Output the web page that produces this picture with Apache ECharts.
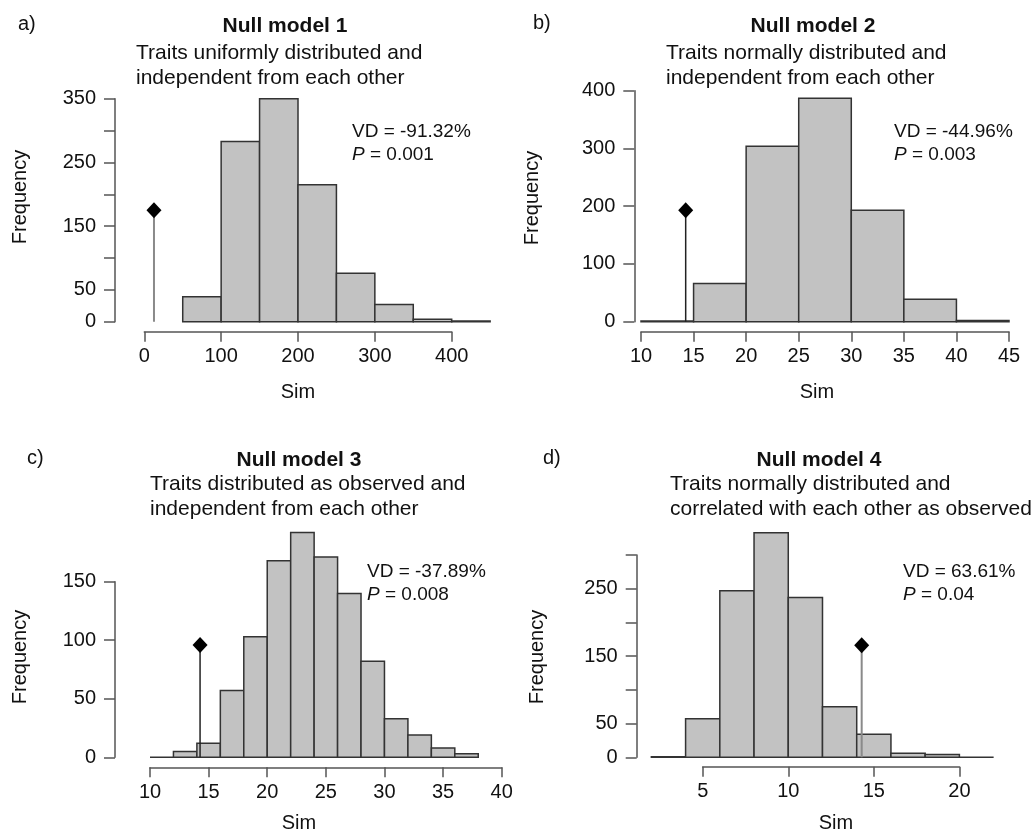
<!DOCTYPE html>
<html>
<head>
<meta charset="utf-8">
<script src="https://cdn.jsdelivr.net/npm/echarts@6/dist/echarts.min.js"></script>
<style>
  html, body { margin: 0; padding: 0; background: #fff; }
  #chart { width: 1034px; height: 835px; }
</style>
</head>
<body>
<div id="chart"></div>
<script>
// histogram bin edges and counts
const edgesA = [50, 100, 150, 200, 250, 300, 350, 400, 450];
const countsA = [39, 283, 350, 215, 76, 27, 4, 1];
const edgesB = [10, 15, 20, 25, 30, 35, 40, 45];
const countsB = [1, 66, 304, 387, 193, 39, 2];
const edgesC = [10, 12, 14, 16, 18, 20, 22, 24, 26, 28, 30, 32, 34, 36, 38];
const countsC = [0, 5, 12, 57, 103, 168, 192, 171, 140, 82, 33, 19, 8, 3];
const edgesD = [2, 4, 6, 8, 10, 12, 14, 16, 18, 20, 22];
const countsD = [1, 57, 247, 333, 237, 75, 34, 6, 4, 0];

// observed value [Sim, marker height]
const obsA = [12.6, 175];
const obsB = [14.25, 193];
const obsC = [14.27, 96];
const obsD = [14.29, 166];

// labelled y ticks
const yLabelsA = [0, 50, 150, 250, 350];
const yLabelsB = [0, 100, 200, 300, 400];
const yLabelsC = [0, 50, 100, 150];
const yLabelsD = [0, 50, 150, 250];

const titles = ['Null model 1', 'Null model 2', 'Null model 3', 'Null model 4'];
const subtitles = [
  ['Traits uniformly distributed and', 'independent from each other'],
  ['Traits normally distributed and', 'independent from each other'],
  ['Traits distributed as observed and', 'independent from each other'],
  ['Traits normally distributed and', 'correlated with each other as observed']
];
const vdTexts = ['VD = -91.32%', 'VD = -44.96%', 'VD = -37.89%', 'VD = 63.61%'];
const pTexts = ['0.001', '0.003', '0.008', '0.04'];
const letters = ['a)', 'b)', 'c)', 'd)'];

const FONT = '"Liberation Sans", Arial, Helvetica, sans-serif';
const TXT = '#111';
const AXIS = '#555';

// panel layout (pixels)
const panels = [
  { grid: [144.3, 98.7, 307.4, 223], x: [0, 400, 100], y: [0, 350, 50], yOff: 29.3, xOff: 10,
    edges: edgesA, counts: countsA, obs: obsA, labels: yLabelsA, stem: '#8a8a8a', stemW: 2,
    letter: [18, 24], title: [285, 26], sub: [136, 53], vd: [352, 132], freq: [20, 197], sim: [298, 392] },
  { grid: [641, 90.7, 368, 231], x: [10, 45, 5], y: [0, 400, 100], yOff: 6.7, xOff: 10,
    edges: edgesB, counts: countsB, obs: obsB, labels: yLabelsB, stem: '#222', stemW: 1.5,
    letter: [533, 23], title: [813, 26], sub: [666, 53], vd: [894, 132], freq: [532, 198], sim: [817, 392] },
  { grid: [150, 581.7, 351.7, 175.6], x: [10, 40, 5], y: [0, 150, 50], yOff: 35, xOff: 10,
    edges: edgesC, counts: countsC, obs: obsC, labels: yLabelsC, stem: '#222', stemW: 1.5,
    letter: [27, 458], title: [299, 460], sub: [150, 484], vd: [367, 572], freq: [20, 657], sim: [299, 823] },
  { grid: [702.7, 555, 256.7, 202.3], x: [5, 20, 5], y: [0, 300, 50], yOff: 66, xOff: 9.4,
    edges: edgesD, counts: countsD, obs: obsD, labels: yLabelsD, stem: '#8a8a8a', stemW: 2,
    letter: [543, 458], title: [819, 460], sub: [670, 484], vd: [903, 572], freq: [537, 657], sim: [836, 823] }
];

const grid = [], xAxis = [], yAxis = [], series = [], graphic = [];

panels.forEach(function (p, i) {
  grid.push({ left: p.grid[0], top: p.grid[1], width: p.grid[2], height: p.grid[3],
    containLabel: false, outerBoundsMode: 'none' });
  xAxis.push({
    type: 'value', gridIndex: i, min: p.x[0], max: p.x[1], interval: p.x[2],
    position: 'bottom', offset: p.xOff,
    axisLine: { show: true, onZero: false, lineStyle: { color: AXIS, width: 1.5 } },
    axisTick: { show: true, length: 10, lineStyle: { color: AXIS, width: 1.5 } },
    axisLabel: { margin: 15, color: TXT, fontSize: 20, fontFamily: FONT },
    splitLine: { show: false }
  });
  const labs = p.labels;
  yAxis.push({
    type: 'value', gridIndex: i, min: p.y[0], max: p.y[1], interval: p.y[2],
    position: 'left', offset: p.yOff,
    axisLine: { show: true, onZero: false, lineStyle: { color: AXIS, width: 1.5 } },
    axisTick: { show: true, length: 11, lineStyle: { color: AXIS, width: 1.5 } },
    axisLabel: { margin: 19, color: TXT, fontSize: 20, fontFamily: FONT,
      formatter: function (v) { return labs.indexOf(v) >= 0 ? String(v) : ''; } },
    splitLine: { show: false }
  });

  const bins = p.counts.map(function (c, k) { return [p.edges[k], p.edges[k + 1], c]; });
  series.push({
    type: 'custom', xAxisIndex: i, yAxisIndex: i, clip: false, z: 2,
    data: bins, encode: { x: [0, 1], y: 2 },
    renderItem: function (params, api) {
      const a = api.coord([api.value(0), 0]);
      const b = api.coord([api.value(1), api.value(2)]);
      return {
        type: 'rect',
        shape: { x: a[0], y: b[1], width: b[0] - a[0], height: a[1] - b[1] },
        style: { fill: '#c2c2c2', stroke: '#333', lineWidth: 1.5 }
      };
    }
  });
  series.push({
    type: 'line', xAxisIndex: i, yAxisIndex: i, z: 3, symbol: 'none', silent: true,
    data: [[p.obs[0], 0], [p.obs[0], p.obs[1]]],
    lineStyle: { color: p.stem, width: p.stemW }
  });
  series.push({
    type: 'scatter', xAxisIndex: i, yAxisIndex: i, z: 4, symbol: 'diamond', symbolSize: [15, 16],
    data: [p.obs], itemStyle: { color: '#000', opacity: 1 }
  });

  graphic.push({ type: 'text', x: p.letter[0], y: p.letter[1],
    style: { text: letters[i], font: '20px ' + FONT, fill: TXT, align: 'left', verticalAlign: 'middle' } });
  graphic.push({ type: 'text', x: p.title[0], y: p.title[1],
    style: { text: titles[i], font: 'bold 21px ' + FONT, fill: TXT, align: 'center', verticalAlign: 'middle' } });
  graphic.push({ type: 'text', x: p.sub[0], y: p.sub[1],
    style: { text: subtitles[i][0], font: '21px ' + FONT, fill: TXT, align: 'left', verticalAlign: 'middle' } });
  graphic.push({ type: 'text', x: p.sub[0], y: p.sub[1] + 25,
    style: { text: subtitles[i][1], font: '21px ' + FONT, fill: TXT, align: 'left', verticalAlign: 'middle' } });
  graphic.push({ type: 'text', x: p.vd[0], y: p.vd[1],
    style: { text: vdTexts[i], font: '19px ' + FONT, fill: TXT, align: 'left', verticalAlign: 'middle' } });
  graphic.push({ type: 'text', x: p.vd[0], y: p.vd[1] + 23,
    style: { text: '{i|P} = ' + pTexts[i], fontSize: 19, fontFamily: FONT, fill: TXT,
      align: 'left', verticalAlign: 'middle',
      rich: { i: { fontStyle: 'italic', fontSize: 19, fontFamily: FONT, fill: TXT } } } });
  graphic.push({ type: 'text', x: p.freq[0], y: p.freq[1], rotation: Math.PI / 2,
    style: { text: 'Frequency', font: '20px ' + FONT, fill: TXT, align: 'center', verticalAlign: 'middle' } });
  graphic.push({ type: 'text', x: p.sim[0], y: p.sim[1],
    style: { text: 'Sim', font: '20px ' + FONT, fill: TXT, align: 'center', verticalAlign: 'middle' } });
});

const chart = echarts.init(document.getElementById('chart'), null, { renderer: 'canvas' });
chart.setOption({
  animation: false,
  backgroundColor: '#fff',
  grid: grid,
  xAxis: xAxis,
  yAxis: yAxis,
  series: series,
  graphic: graphic
});
</script>
</body>
</html>
